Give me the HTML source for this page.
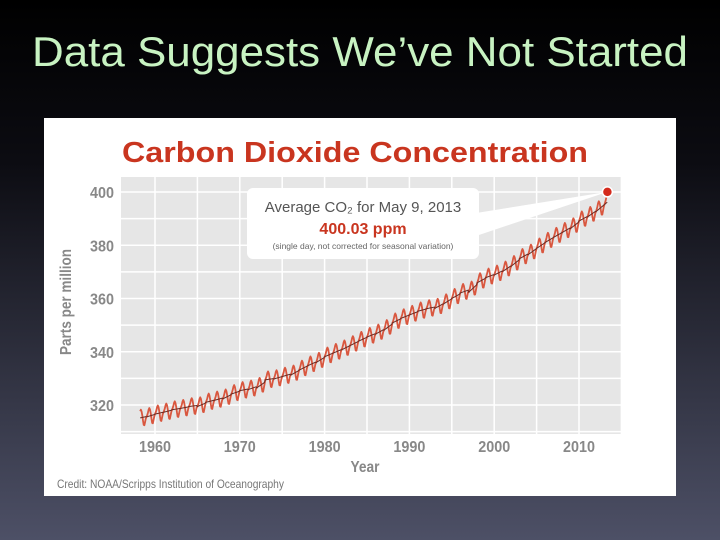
<!DOCTYPE html>
<html><head><meta charset="utf-8"><style>
html,body{margin:0;padding:0;width:720px;height:540px;overflow:hidden;background:#000}
svg{display:block}
</style></head><body>
<svg width="720" height="540" viewBox="0 0 720 540">
<defs><linearGradient id="bg" x1="0" y1="0" x2="0" y2="1">
<stop offset="0" stop-color="#000"/><stop offset="0.3" stop-color="#0c0c12"/><stop offset="1" stop-color="#4d5066"/></linearGradient></defs>
<rect width="720" height="540" fill="url(#bg)"/>
<text x="360" y="66" text-anchor="middle" textLength="656" lengthAdjust="spacingAndGlyphs" font-family="Liberation Sans, sans-serif" font-size="42" fill="#c8f3c2">Data Suggests We’ve Not Started</text>
<rect x="44" y="118" width="632" height="378" fill="#fff"/>
<text x="122" y="162" font-family="Liberation Sans, sans-serif" font-weight="bold" font-size="29" fill="#c9351f" textLength="466" lengthAdjust="spacingAndGlyphs">Carbon Dioxide Concentration</text>
<rect x="121" y="177" width="500" height="257" fill="#e6e6e6"/>
<g id="grid"></g><g id="axes"></g><g id="series"></g>
<text x="71" y="302" transform="rotate(-90 71 302)" text-anchor="middle" textLength="106" lengthAdjust="spacingAndGlyphs" font-family="Liberation Sans, sans-serif" font-weight="bold" font-size="16" fill="#888">Parts per million</text>
<text x="365" y="472" text-anchor="middle" textLength="29" lengthAdjust="spacingAndGlyphs" font-family="Liberation Sans, sans-serif" font-weight="bold" font-size="16" fill="#888">Year</text>
<text x="57" y="488" textLength="227" lengthAdjust="spacingAndGlyphs" font-family="Liberation Sans, sans-serif" font-size="12" fill="#777">Credit: NOAA/Scripps Institution of Oceanography</text>
<g>
<polygon id="pointer" points="470,214 470,238 607,192" fill="#fff"/>
<rect x="247" y="188" width="232" height="71" rx="6" fill="#fff"/>
<text x="363" y="212" text-anchor="middle" font-family="Liberation Sans, sans-serif" font-size="15" fill="#555">Average CO₂ for May 9, 2013</text>
<text x="363" y="234" text-anchor="middle" font-family="Liberation Sans, sans-serif" font-weight="bold" font-size="16" fill="#c9351f">400.03 ppm</text>
<text x="363" y="249" text-anchor="middle" font-family="Liberation Sans, sans-serif" font-size="8.5" fill="#666">(single day, not corrected for seasonal variation)</text>
</g>
<g id="marker"></g>
</svg>
<script>
const years=[1958,1959,1960,1961,1962,1963,1964,1965,1966,1967,1968,1969,1970,1971,1972,1973,1974,1975,1976,1977,1978,1979,1980,1981,1982,1983,1984,1985,1986,1987,1988,1989,1990,1991,1992,1993,1994,1995,1996,1997,1998,1999,2000,2001,2002,2003,2004,2005,2006,2007,2008,2009,2010,2011,2012,2013];
const annualMeans=[315.3,315.97,316.91,317.64,318.45,318.99,319.62,320.04,321.38,322.16,323.04,324.62,325.68,326.32,327.45,329.68,330.18,331.11,332.04,333.83,335.4,336.84,338.75,340.11,341.45,343.05,344.65,346.12,347.42,349.19,351.57,353.12,354.39,355.61,356.45,357.1,358.83,360.82,362.61,363.73,366.7,368.38,369.55,371.14,373.28,375.8,377.52,379.8,381.9,383.79,385.6,387.43,389.9,391.65,393.85,396.5];
const seasonal=[0.0,0.6,1.4,2.5,3.0,2.3,0.8,-1.2,-2.9,-3.1,-1.9,-0.7];
const yTicks=[320,340,360,380,400];
const xTicks=[1960,1970,1980,1990,2000,2010];
const latestYear=2013.35, latestValue=400.03;
const NS='http://www.w3.org/2000/svg';
const x=yr=>155+(yr-1960)*8.48;
const y=v=>405-(v-320)*2.6625;
function mk(tag,attrs,parent){const e=document.createElementNS(NS,tag);for(const k in attrs)e.setAttribute(k,attrs[k]);parent.appendChild(e);return e;}
const grid=document.getElementById('grid'),axes=document.getElementById('axes'),series=document.getElementById('series');
for(let yr=1960;yr<=2015;yr+=5){const l=mk('line',{x1:x(yr),x2:x(yr),y1:177,y2:434,stroke:'#fff','stroke-width':1.5},grid);

}
for(let v=310;v<=405;v+=10){if(y(v)<177||y(v)>434)continue;const l=mk('line',{x1:121,x2:621,y1:y(v),y2:y(v),stroke:'#fff','stroke-width':1.5},grid);

}
yTicks.forEach(v=>{const t=mk('text',{x:114,y:y(v)+6,'text-anchor':'end',textLength:24,lengthAdjust:'spacingAndGlyphs','font-family':'Liberation Sans, sans-serif','font-weight':'bold','font-size':16,fill:'#888'},axes);t.textContent=v;

});
xTicks.forEach(v=>{const t=mk('text',{x:x(v),y:452,'text-anchor':'middle',textLength:32,lengthAdjust:'spacingAndGlyphs','font-family':'Liberation Sans, sans-serif','font-weight':'bold','font-size':16,fill:'#888'},axes);t.textContent=v;

});
let monthly=[],trend=[];
years.forEach((yr,i)=>{for(let m=0;m<12;m++){const t=yr+m/12;if(t<1958.2||t>latestYear)continue;
const base=annualMeans[i]+(i<annualMeans.length-1?(annualMeans[i+1]-annualMeans[i]):(annualMeans[i]-annualMeans[i-1]))*(m-5.5)/12;
monthly.push([x(t),y(base+seasonal[m])]);trend.push([x(t),y(base)]);}});
const pm=mk('polyline',{points:monthly.map(p=>p.join(',')).join(' '),fill:'none',stroke:'#d9573f','stroke-width':1.8,'stroke-linejoin':'round'},series);


const pt=mk('polyline',{points:trend.map(p=>p.join(',')).join(' '),fill:'none',stroke:'#6a2a22','stroke-width':1},series);


const c=mk('circle',{cx:x(latestYear),cy:y(latestValue),r:5,fill:'#d42a1c',stroke:'#fff','stroke-width':1.5},document.getElementById('marker'));


document.getElementById('pointer').setAttribute('points','470,214 470,238 '+x(latestYear)+','+y(latestValue));
</script>
</body></html>
